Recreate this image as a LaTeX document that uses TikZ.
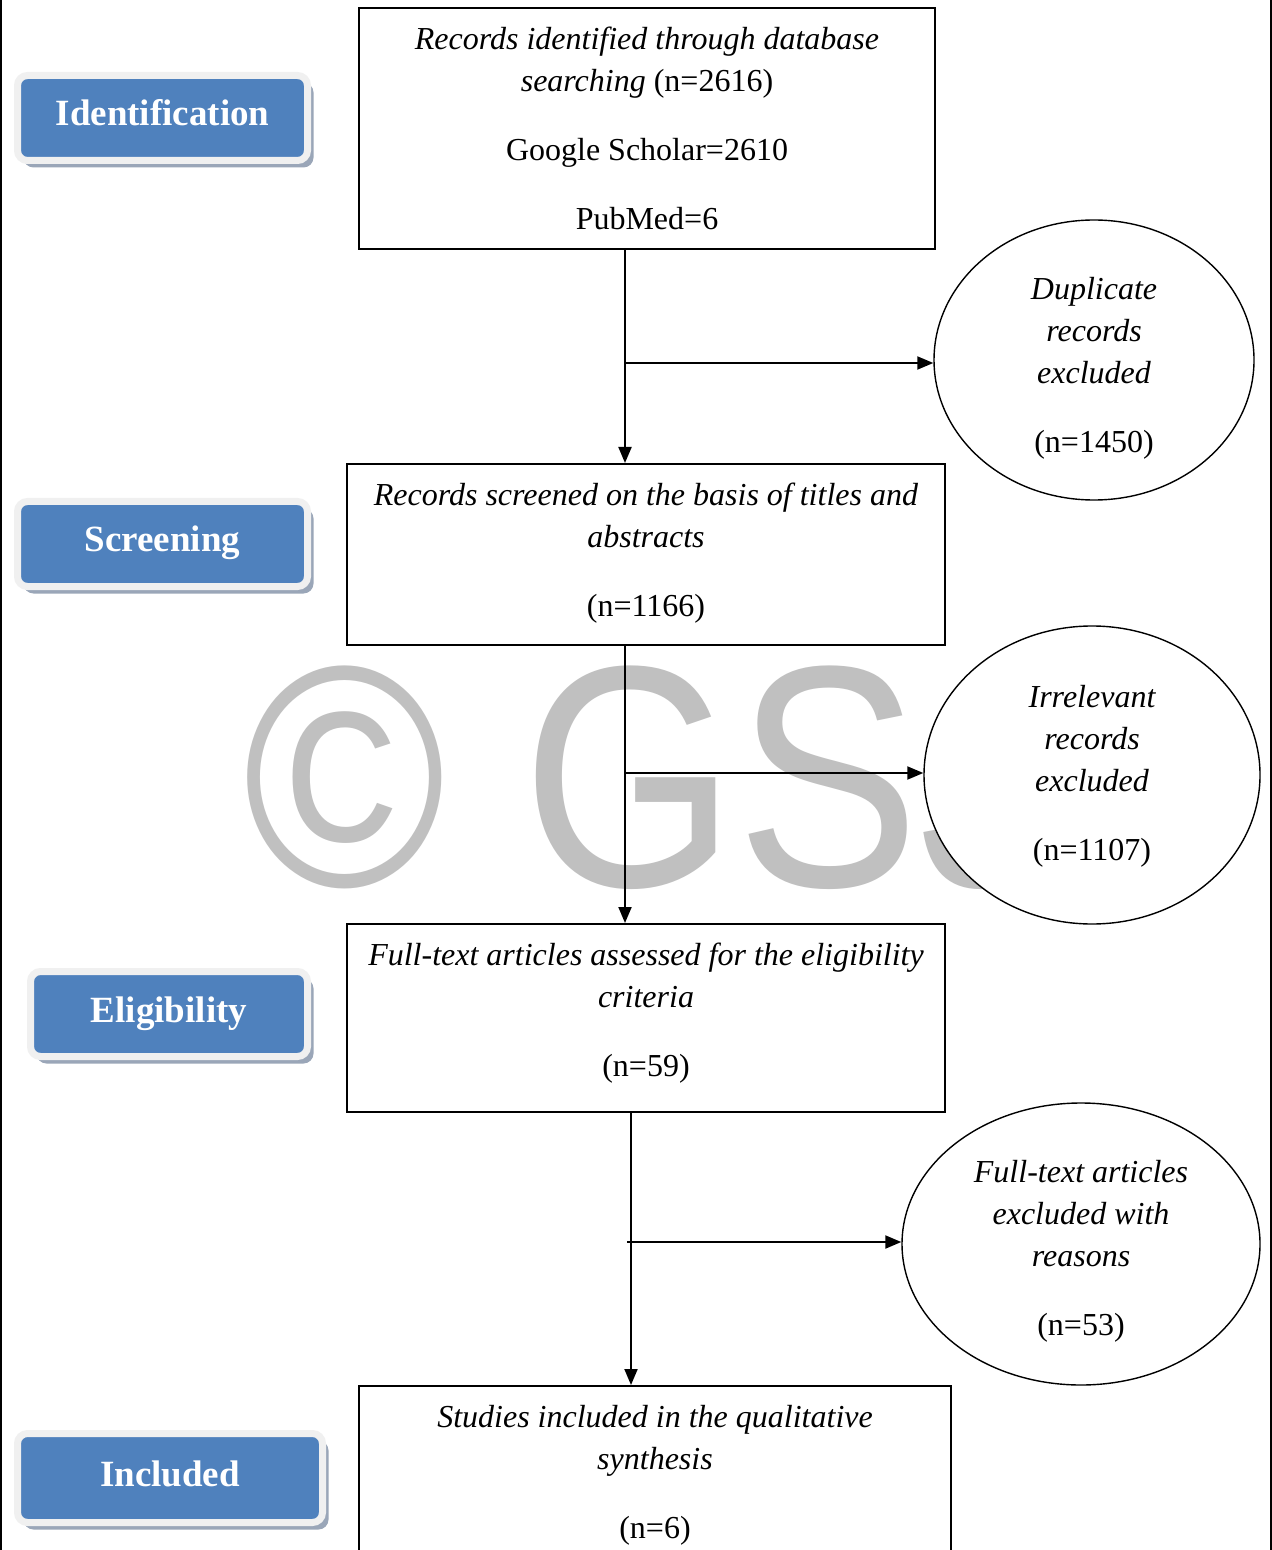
\documentclass[tikz,border=0pt]{standalone}
\usepackage{graphicx}
\usepackage{fontspec}
\setmainfont{Liberation Serif}
\newfontfamily\wmfont{Liberation Sans}
\usetikzlibrary{arrows.meta,shapes.geometric,shadows}
\definecolor{lblue}{HTML}{4F81BD}
\definecolor{framegrey}{HTML}{F0F0F0}
\definecolor{shade}{HTML}{9AA6B8}
\definecolor{wm}{HTML}{C0C0C0}
\tikzset{
  flowbox/.style={draw, line width=1pt, fill=white, rectangle, inner sep=0pt},
  oval/.style={draw, line width=0.7pt, fill=white, ellipse, inner sep=0pt},
  boxtext/.style={align=center, inner sep=0pt, font=\fontsize{16}{21}\selectfont},
  ovaltext/.style={align=center, inner sep=0pt, font=\fontsize{16}{21}\selectfont\itshape},
  stage/.style={rectangle, rounded corners=5pt, fill=lblue, draw=framegrey, line width=3.5pt, text=white,
    font=\fontsize{18.5}{20}\selectfont\bfseries, inner sep=0pt, text height=13pt, text depth=5pt,
    drop shadow={shadow xshift=3pt, shadow yshift=-3.5pt, fill=shade, opacity=1}, minimum height=42.5pt},
  flow/.style={line width=1pt, -{Triangle[length=8pt,width=6.5pt]}},
  edgeline/.style={line width=1.25pt},
}
\begin{document}
\begin{tikzpicture}[x=0.5pt,y=-0.5pt]
\useasboundingbox (0,0) rectangle (1272,1550);
\clip (0,0) rectangle (1272,1550);
\fill[white] (0,0) rectangle (1272,1550);
% watermark
\node[anchor=base west, inner sep=0pt, text=wm, font=\wmfont\fontsize{158}{158}\selectfont] (wmark) at (243,886) {\scalebox{0.87}[1]{© GSJ}};
% page edges
\draw[edgeline] (1,0) -- (1,1550);
\draw[edgeline] (1271,0) -- (1271,1550);
% stage labels
\node[stage, minimum width=145pt] (idn) at (162.5,118) {Identification};
\node[stage, minimum width=145pt] (scr) at (162.5,544) {Screening};
\node[stage, minimum width=138.5pt] (elg) at (169,1014) {Eligibility};
\node[stage, minimum width=152.5pt, minimum height=44.5pt] (inc) at (170,1478) {Included};
% boxes
\node[flowbox, minimum width=288pt, minimum height=120.5pt] (box1) at (647,128.5) {};
\node[boxtext] (box1text) at (647,128.5)
  {\textit{Records identified through database}\\ \textit{searching} (n=2616)\\[13.5pt] Google Scholar=2610\\[13.5pt] PubMed=6};
\node[flowbox, minimum width=299pt, minimum height=90.5pt] (box2) at (646,554.5) {};
\node[boxtext] (box2text) at (646,553.5)
  {\textit{Records screened on the basis of titles and}\\ \textit{abstracts}\\[13.5pt] (n=1166)};
\node[flowbox, minimum width=299pt, minimum height=94pt] (box3) at (646,1018) {};
\node[boxtext] (box3text) at (646,1013)
  {\textit{Full-text articles assessed for the eligibility}\\ \textit{criteria}\\[13.5pt] (n=59)};
\node[flowbox, minimum width=296pt, minimum height=87pt] (box4) at (655,1473) {};
\node[boxtext] (box4text) at (655,1475)
  {\textit{Studies included in the qualitative}\\ \textit{synthesis}\\[13.5pt] (n=6)};
% ovals
\node[oval, minimum width=160pt, minimum height=140pt] (e1) at (1094,360) {};
\node[ovaltext] (e1text) at (1094,368)
  {Duplicate\\ records\\ excluded\\[13.5pt] \upshape(n=1450)};
\node[oval, minimum width=168pt, minimum height=149pt] (e2) at (1092,775) {};
\node[ovaltext] (e2text) at (1092,776)
  {Irrelevant\\ records\\ excluded\\[13.5pt] \upshape(n=1107)};
\node[oval, minimum width=179pt, minimum height=141pt] (e3) at (1081,1244) {};
\node[ovaltext] (e3text) at (1081,1251)
  {Full-text articles\\ excluded with\\ reasons\\[13.5pt] \upshape(n=53)};
% connectors
\coordinate (j1) at (625,363);
\coordinate (j2) at (625,773);
\coordinate (j3) at (631,1242);
\coordinate (s3) at (627,1242);
\draw[flow] (j1 |- box1.south) -- (j1 |- box2.north);
\draw[flow] (j1) -- (j1 -| e1.west);
\draw[flow] (j2 |- box2.south) -- (j2 |- box3.north);
\draw[flow] (j2) -- (j2 -| e2.west);
\draw[flow] (j3 |- box3.south) -- (j3 |- box4.north);
\draw[flow] (s3) -- (s3 -| e3.west);
\end{tikzpicture}
\end{document}
